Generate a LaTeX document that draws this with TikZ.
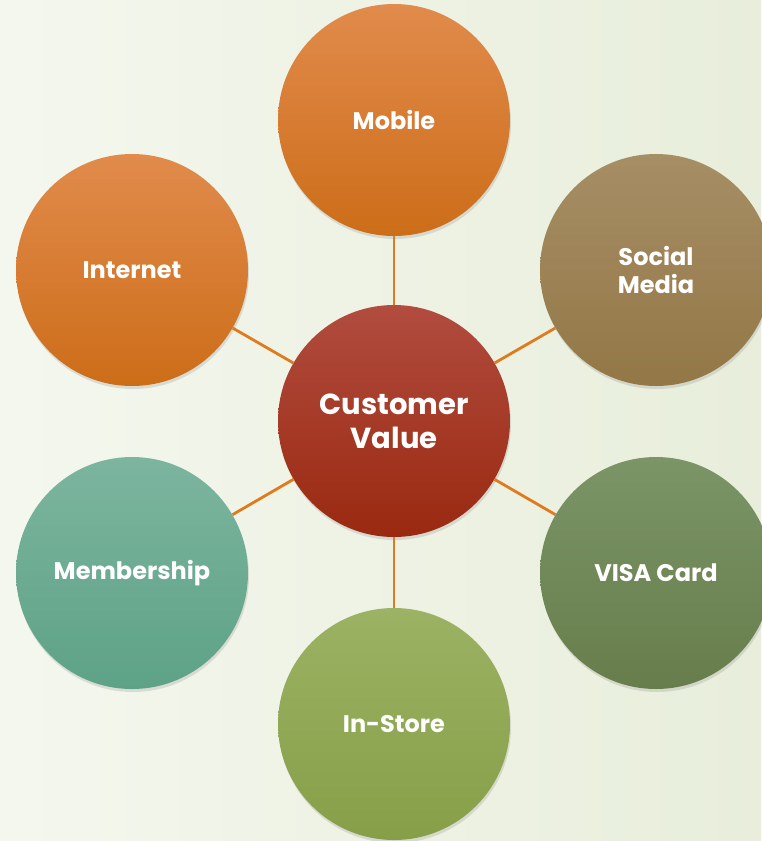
\documentclass[tikz,border=0pt]{standalone}
\usepackage{fontspec}
\setmainfont{Poppins}
\usetikzlibrary{shadows}
\definecolor{bgA}{HTML}{F4F7EE}
\definecolor{bgB}{HTML}{E8EEDB}
\definecolor{linkc}{HTML}{E07A1F}
\definecolor{orT}{HTML}{E18B4C}
\definecolor{orB}{HTML}{CC6D18}
\definecolor{smT}{HTML}{A68E65}
\definecolor{smB}{HTML}{937746}
\definecolor{viT}{HTML}{7B9567}
\definecolor{viB}{HTML}{677D4B}
\definecolor{meT}{HTML}{7DB59F}
\definecolor{meB}{HTML}{5DA287}
\definecolor{inT}{HTML}{9CB264}
\definecolor{inB}{HTML}{869F47}
\definecolor{cvT}{HTML}{B14C3F}
\definecolor{cvB}{HTML}{9A2910}
\tikzset{
  bubble/.style={circle, minimum size=232pt, inner sep=0pt, align=center,
    text=white, font=\bfseries\fontsize{24}{28.5}\selectfont,
    drop shadow={opacity=0.22, shadow xshift=1pt, shadow yshift=-3pt}},
  link/.style={draw=linkc, line width=2.8pt}
}
\begin{document}
\begin{tikzpicture}[x=1pt,y=-1pt]
\useasboundingbox (0,0) rectangle (761,841);
\shade[left color=bgA, right color=bgB] (0,0) rectangle (761,841);
\node[bubble, top color=cvT, bottom color=cvB, font=\bfseries\fontsize{29}{34}\selectfont] (cv) at (394,421) {Customer\\Value};
\node[bubble, top color=orT, bottom color=orB] (mob) at (394,120) {Mobile};
\node[bubble, top color=orT, bottom color=orB] (int) at (132,270) {Internet};
\node[bubble, top color=smT, bottom color=smB] (soc) at (656,270) {Social\\Media};
\node[bubble, top color=viT, bottom color=viB] (visa) at (656,573) {VISA Card};
\node[bubble, top color=meT, bottom color=meB] (mem) at (132,573) {Membership};
\node[bubble, top color=inT, bottom color=inB] (ins) at (394,724) {In-Store};
\draw[link] (cv) -- (mob);
\draw[link] (cv) -- (int);
\draw[link] (cv) -- (soc);
\draw[link] (cv) -- (visa);
\draw[link] (cv) -- (mem);
\draw[link] (cv) -- (ins);
\end{tikzpicture}
\end{document}
